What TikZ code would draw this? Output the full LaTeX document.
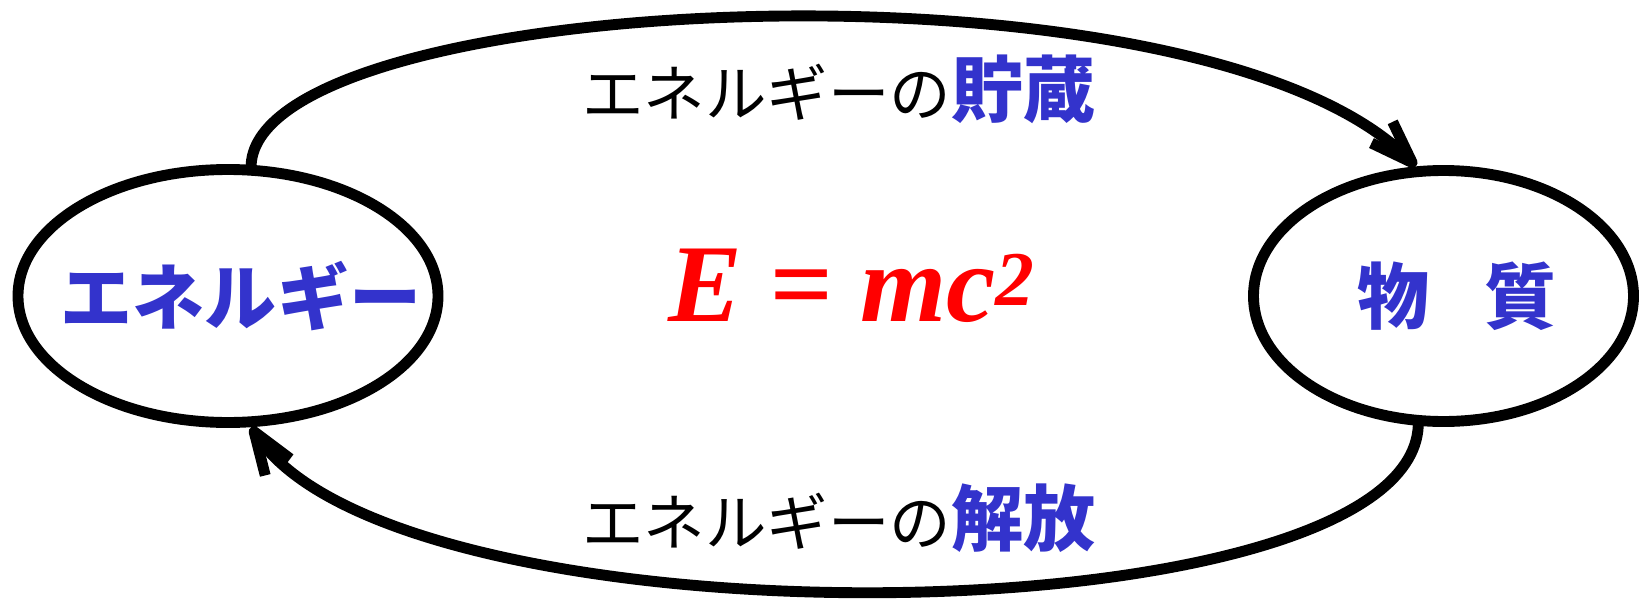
\documentclass[tikz,border=0pt]{standalone}
\usepackage{fontspec}
\setmainfont{Liberation Serif}
\newfontfamily\jpfont{Noto Sans CJK JP}
\usetikzlibrary{arrows.meta,shapes.geometric}
\definecolor{kanjiblue}{HTML}{3333CC}
\definecolor{formred}{HTML}{FF0000}

\begin{document}
\begin{tikzpicture}[
    % ellipses and arcs
    blob/.style={ellipse, draw, line width=6.2pt, inner sep=0pt},
    cycle/.style={line width=6.2pt, line cap=round,
        -{Straight Barb[length=8.5mm, width=6mm, line join=round]}},
    % texts
    small/.style={font=\jpfont\fontsize{35}{42}\selectfont, inner sep=0pt},
    big/.style={font=\jpfont\bfseries\fontsize{41}{48}\selectfont, text=kanjiblue, inner sep=0pt},
    formula/.style={font=\bfseries\itshape\fontsize{63}{70}\selectfont, text=formred, inner sep=0pt},
]
\useasboundingbox (0,0) rectangle (32.84,12.08);

% =========================================================
% the two states
% =========================================================
\node[blob, minimum width=8.4cm, minimum height=5.06cm] (enL) at (4.56, 6.16) {};
\node[blob, minimum width=7.6cm, minimum height=5.02cm] (maR) at (28.87, 6.16) {};

\node[big] (enT) at ([xshift=0.26cm]enL.center) {エネルギー};
\node[big] (maT) at ([xshift=0.27cm]maR.center) {物\hspace{1.1cm}質};

% formula
\node[formula] (emc) at (17.04, 6.36) {E = mc\textsuperscript{2}};

% =========================================================
% arcs between them
% =========================================================
\draw[cycle] (enL.80) .. controls +(0.18, 3.5) and +(-4.4, 4.4) .. (maR.102);
\draw[cycle] (maR.259) .. controls +(-0.2, -4.3) and +(3.0, -4.5) .. (enL.280);

% labels on the arcs
\node[small] (store) at (16.78, 10.3) {エネルギーの{\bfseries\color{kanjiblue}\fontsize{41}{48}\selectfont 貯蔵}};
\node[small] (free)  at (16.78, 1.72) {エネルギーの{\bfseries\color{kanjiblue}\fontsize{41}{48}\selectfont 解放}};

\end{tikzpicture}
\end{document}
